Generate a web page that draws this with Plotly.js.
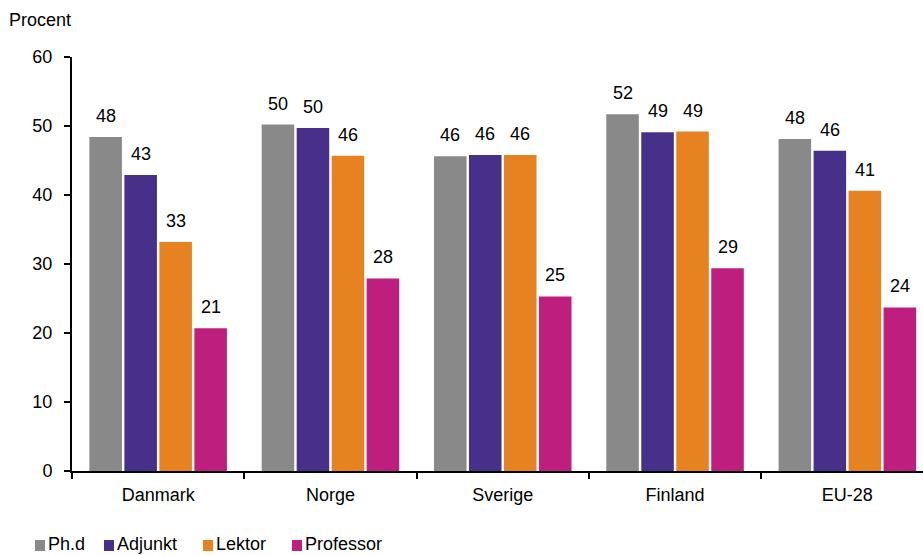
<!DOCTYPE html>
<html>
<head>
<meta charset="utf-8">
<script src="https://cdn.plot.ly/plotly-3.0.1.min.js"></script>
<style>
  html, body { margin: 0; padding: 0; background: #fff; }
  #chart { width: 923px; height: 555px; }
</style>
</head>
<body>
<div id="chart"></div>
<script>
// Andel kvinder (procent) efter stillingsniveau
const categories = ['Danmark', 'Norge', 'Sverige', 'Finland', 'EU-28'];
const seriesNames = ['Ph.d', 'Adjunkt', 'Lektor', 'Professor'];
const phd       = [48.4, 50.2, 45.6, 51.7, 48.1];
const adjunkt   = [42.9, 49.7, 45.8, 49.1, 46.4];
const lektor    = [33.2, 45.7, 45.8, 49.2, 40.6];
const professor = [20.7, 27.9, 25.3, 29.4, 23.7];
const yTicks = [0, 10, 20, 30, 40, 50, 60];

const seriesValues = [phd, adjunkt, lektor, professor];
const colors = ['#898989', '#46308A', '#E6821F', '#BE1E7E'];

const FONT = 'Liberation Sans, Arial, sans-serif';
const W = 923, H = 555;
const M = { l: 72, r: 0, t: 57, b: 84 };
const plotW = W - M.l - M.r, plotH = H - M.t - M.b;
const BARGAP = 0.1875, GROUPGAP = 0.07;
const catPx = 172.3;

const traces = seriesValues.map((vals, j) => ({
  type: 'bar',
  name: seriesNames[j],
  x: categories,
  y: vals,
  marker: { color: colors[j], line: { width: 0 } },
  hoverinfo: 'skip',
  showlegend: false
}));

// value labels above each bar, placed at the grouped-bar centres
const annotations = [];
const n = seriesValues.length;
seriesValues.forEach((vals, j) => {
  const off = -(1 - BARGAP) / 2 + (j + 0.5) * (1 - BARGAP) / n;
  vals.forEach((v, i) => {
    annotations.push({
      x: i + off, y: v, xref: 'x', yref: 'y',
      text: String(Math.round(v)),
      showarrow: false, yanchor: 'bottom', xanchor: 'center', yshift: 9,
      font: { family: FONT, size: 18, color: '#000' }
    });
  });
});

// pixel -> paper helpers for the legend and axis caption
const px = p => (p - M.l) / plotW;
const py = p => (H - M.b - p) / plotH;

annotations.push({
  x: px(7), y: py(20), xref: 'paper', yref: 'paper',
  text: 'Procent', showarrow: false, xanchor: 'left', yanchor: 'middle',
  font: { family: FONT, size: 18, color: '#000' }
});

// legend row
const legendX = [35, 104, 203, 292];
const shapes = [];
seriesNames.forEach((name, j) => {
  shapes.push({
    type: 'rect', xref: 'paper', yref: 'paper',
    x0: px(legendX[j]), x1: px(legendX[j] + 10),
    y0: py(551), y1: py(540),
    fillcolor: colors[j], line: { width: 0 }
  });
  annotations.push({
    x: px(legendX[j] + 11), y: py(544), xref: 'paper', yref: 'paper',
    text: name, showarrow: false, xanchor: 'left', yanchor: 'middle',
    font: { family: FONT, size: 18, color: '#000' }
  });
});

const layout = {
  width: W, height: H,
  margin: M,
  paper_bgcolor: '#fff', plot_bgcolor: '#fff',
  barmode: 'group', bargap: BARGAP, bargroupgap: GROUPGAP,
  font: { family: FONT, size: 18, color: '#000' },
  showlegend: false,
  xaxis: {
    type: 'category',
    range: [-0.5, -0.5 + plotW / catPx],
    showline: true, linecolor: '#000', linewidth: 2,
    ticks: 'outside', tickson: 'boundaries', ticklen: 6, tickwidth: 2, tickcolor: '#000',
    showgrid: false, zeroline: false,
    ticklabelstandoff: 6,
    tickfont: { family: FONT, size: 18, color: '#000' },
    fixedrange: true
  },
  yaxis: {
    range: [0, 60],
    tickvals: yTicks, ticktext: yTicks.map(String),
    showline: true, linecolor: '#000', linewidth: 2,
    ticks: 'outside', ticklen: 6, tickwidth: 2, tickcolor: '#000',
    showgrid: false, zeroline: false,
    ticklabelstandoff: 8,
    tickfont: { family: FONT, size: 18, color: '#000' },
    fixedrange: true
  },
  annotations: annotations,
  shapes: shapes
};

Plotly.newPlot('chart', traces, layout, { staticPlot: true, displayModeBar: false });
</script>
</body>
</html>
